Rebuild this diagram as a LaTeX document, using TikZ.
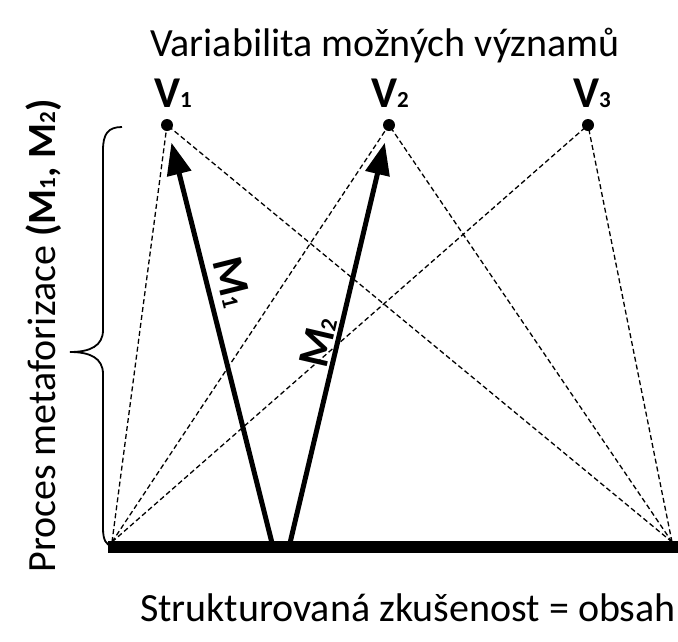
\documentclass[tikz,border=0pt]{standalone}
\usepackage{fontspec}
\setmainfont{Carlito}
\usetikzlibrary{arrows.meta}

\newcommand{\lowdigit}[1]{{\fontsize{23}{23}\selectfont #1}}

\begin{document}
\begin{tikzpicture}[x=1pt,y=-1pt,
	dot/.style={circle,fill=black,inner sep=0pt,minimum size=12pt},
	bigtext/.style={font=\fontsize{40}{40}\selectfont,inner sep=0pt,anchor=base},
	boldtext/.style={font=\fontsize{44}{44}\selectfont\bfseries,inner sep=0pt,anchor=base},
	meta/.style={-{Triangle[length=32pt,width=24pt]},line width=5pt,shorten >=12pt},
	link/.style={line width=1.3pt,dash pattern=on 5pt off 3pt}]
	\useasboundingbox (0,0) rectangle (678,641);
	\foreach \n/\x/\lx in {1/167/173,2/389/390,3/588/592}
	{
		\node[dot] (v\n) at (\x,125) {};
		\node[boldtext] (lv\n) at (\lx,107) {V\lowdigit{\n}};
	}
	\node[bigtext] (title) at (385,56) {Variabilita možných významů};
	\node[bigtext] (content) at (408,621) {Strukturovaná zkušenost = obsah};
	\node[bigtext,rotate=90] (process) at (55,336) {Proces metaforizace \textbf{(M\lowdigit{1}, M\lowdigit{2})}};
	\fill[color=black] (108,541) rectangle (678,553);
	\coordinate (left) at (112,542);
	\coordinate (right) at (672,542);
	\coordinate (b1) at (272,543);
	\coordinate (b2) at (290,543);
	\foreach \n in {1,2,3}
	{
		\draw[link] (left) -- (v\n.center);
		\draw[link] (right) -- (v\n.center);
	}
	\draw[meta] (b1) -- (v1);
	\draw[meta] (b2) -- (v2);
	\node[boldtext,anchor=center,rotate=-76] (m1) at (232,282) {M\lowdigit{1}};
	\node[boldtext,anchor=center,rotate=77] (m2) at (318,342) {M\lowdigit{2}};
	\draw[line width=1.8pt] (122,127) .. controls (108,127) and (103,134) .. (103,150) -- (103,330)
		.. controls (103,346) and (90,352) .. (70,352) .. controls (90,352) and (103,358) .. (103,374)
		-- (103,528) .. controls (103,540) and (106,545) .. (112,546);
\end{tikzpicture}
\end{document}
